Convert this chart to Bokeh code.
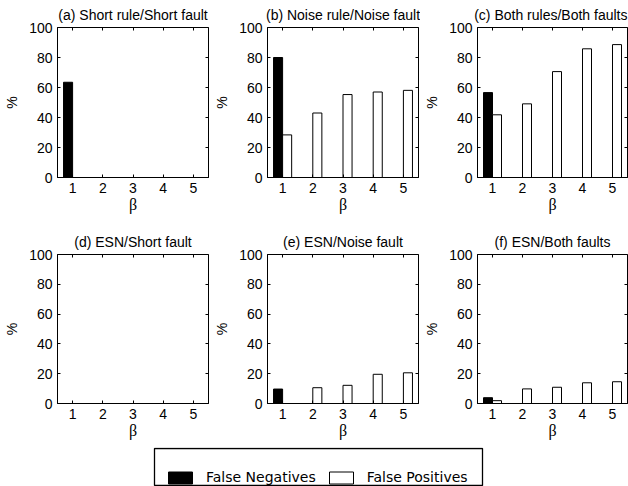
import numpy as np
from bokeh.plotting import figure
from bokeh.models import (Range1d, FixedTicker, LinearAxis, ColumnDataSource,
                          Legend, LegendItem, CustomLabelingPolicy,
                          BoxAnnotation)
from bokeh.transform import dodge
from bokeh.layouts import column, row
from bokeh.embed import file_html
from bokeh.resources import INLINE

# ---- data ----
beta = [1, 2, 3, 4, 5]
y_ticks = [0, 20, 40, 60, 80, 100]

titles = ["(a) Short rule/Short fault", "(b) Noise rule/Noise fault",
          "(c) Both rules/Both faults", "(d) ESN/Short fault",
          "(e) ESN/Noise fault", "(f) ESN/Both faults"]

fn_a = [63.5, 0, 0, 0, 0]
fp_a = [0, 0, 0, 0, 0]
fn_b = [80.0, 0, 0, 0, 0]
fp_b = [28.4, 43.0, 55.3, 57.0, 58.1]
fn_c = [56.6, 0, 0, 0, 0]
fp_c = [41.8, 49.1, 70.6, 85.8, 88.6]
fn_d = [0, 0, 0, 0, 0]
fp_d = [0, 0, 0, 0, 0]
fn_e = [9.7, 0, 0, 0, 0]
fp_e = [0, 10.6, 12.2, 19.6, 20.6]
fn_f = [3.9, 0, 0, 0, 0]
fp_f = [1.9, 9.8, 10.9, 13.9, 14.6]

legend_labels = ["False Negatives", "False Positives"]

SANS = "Liberation Sans"
FS = "14px"

no_labels = CustomLabelingPolicy(code="""
    for (const i of indices) { indices.unset(i) }
    return indices
""")


def panel(title, fn, fp, width, height, bl, br, bt, bb, title_align="center"):
    p = figure(width=width, height=height, output_backend="svg",
               toolbar_location=None, x_range=Range1d(0.5, 5.5),
               y_range=Range1d(0, 100), min_border_left=bl,
               min_border_right=br, min_border_top=bt, min_border_bottom=bb,
               title=title)
    p.title.align = title_align
    p.title.text_font = SANS
    p.title.text_font_size = FS
    p.title.text_font_style = "normal"
    p.title.text_color = "black"
    p.title.standoff = 9
    p.xgrid.visible = False
    p.ygrid.visible = False
    p.outline_line_color = "black"
    p.outline_line_width = 1
    p.outline_line_alpha = 1
    p.background_fill_color = "white"
    p.border_fill_color = "white"

    src = ColumnDataSource(dict(x=beta, fn=fn, fp=fp))
    p.vbar(x=dodge("x", -0.15), top="fn", width=0.3, source=src,
           fill_color="black", line_color="black", line_width=1)
    p.vbar(x=dodge("x", 0.15), top="fp", width=0.3, source=src,
           fill_color="white", line_color="black", line_width=1)

    for ax in p.xaxis:
        ax.ticker = FixedTicker(ticks=beta)
        ax.axis_label = "β"
        ax.axis_label_text_font = "Liberation Serif"
        ax.axis_label_text_font_size = "16px"
        ax.axis_label_text_font_style = "normal"
        ax.axis_label_standoff = 0
    for ax in p.yaxis:
        ax.ticker = FixedTicker(ticks=y_ticks)
        ax.axis_label = "%"
        ax.axis_label_text_font = SANS
        ax.axis_label_text_font_size = FS
        ax.axis_label_text_font_style = "normal"
        ax.axis_label_standoff = 6
    for ax in p.xaxis + p.yaxis:
        ax.axis_label_text_color = "black"
        ax.major_label_text_font = SANS
        ax.major_label_text_font_size = FS
        ax.major_label_text_color = "black"
        ax.major_label_standoff = 5
        ax.major_tick_in = 3
        ax.major_tick_out = 0
        ax.minor_tick_in = 0
        ax.minor_tick_out = 0
        ax.axis_line_color = "black"
        ax.major_tick_line_color = "black"

    top_ax = LinearAxis(ticker=FixedTicker(ticks=beta), major_tick_in=3,
                        major_tick_out=0, minor_tick_in=0, minor_tick_out=0,
                        major_label_text_font_size="0px",
                        major_label_policy=no_labels,
                        major_label_standoff=0, axis_line_color=None)
    right_ax = LinearAxis(ticker=FixedTicker(ticks=y_ticks), major_tick_in=3,
                          major_tick_out=0, minor_tick_in=0, minor_tick_out=0,
                          major_label_text_font_size="0px",
                          major_label_policy=no_labels,
                          major_label_standoff=0, axis_line_color=None)
    p.add_layout(top_ax, "above")
    p.add_layout(right_ax, "right")
    return p


# layout geometry
W = [210, 210, 208]
BL = [57, 57, 57]
BR = [2, 2, 1]
H_TOP, H_BOT, H_LEG = 227, 220, 39
ALIGN = ["center", "center", "right"]

data = [(fn_a, fp_a), (fn_b, fp_b), (fn_c, fp_c),
        (fn_d, fp_d), (fn_e, fp_e), (fn_f, fp_f)]

top_row = [panel(titles[i], data[i][0], data[i][1], W[i], H_TOP,
                 BL[i], BR[i], 26, 50, ALIGN[i]) for i in range(3)]
bot_row = [panel(titles[i + 3], data[i + 3][0], data[i + 3][1], W[i], H_BOT,
                 BL[i], BR[i], 26, 44) for i in range(3)]

# legend strip (proxy renderers hidden; legend draws their swatches)
leg = figure(width=sum(W), height=H_LEG, output_backend="svg",
             toolbar_location=None, min_border=0, x_axis_type=None,
             y_axis_type=None, x_range=Range1d(0, 1), y_range=Range1d(0, 1))
leg.outline_line_color = None
leg.xgrid.visible = False
leg.ygrid.visible = False
r1 = leg.vbar(x=[beta[0]], top=[fn_a[0]], width=0.3, fill_color="black",
              line_color="black", visible=False)
r2 = leg.vbar(x=[beta[0]], top=[fp_b[0]], width=0.3, fill_color="white",
              line_color="black", visible=False)
legend = Legend(items=[LegendItem(label=legend_labels[0], renderers=[r1]),
                       LegendItem(label=legend_labels[1], renderers=[r2])],
                orientation="horizontal", location=(165, 1),
                glyph_width=30, glyph_height=15, label_height=15,
                label_standoff=11, spacing=10, padding=11, margin=0,
                border_line_color=None, background_fill_alpha=0,
                click_policy="none",
                label_text_font="DejaVu Sans", label_text_font_size="14px",
                label_text_color="black")
leg.add_layout(legend, "center")
leg.add_layout(BoxAnnotation(left=154, right=482, bottom=1, top=38,
                             left_units="screen", right_units="screen",
                             bottom_units="screen", top_units="screen",
                             fill_alpha=0, line_color="black", line_width=1.3,
                             line_alpha=1, level="overlay"))

layout = column(row(*top_row), row(*bot_row), leg)

open("out.html", "w").write(file_html(layout, INLINE))
